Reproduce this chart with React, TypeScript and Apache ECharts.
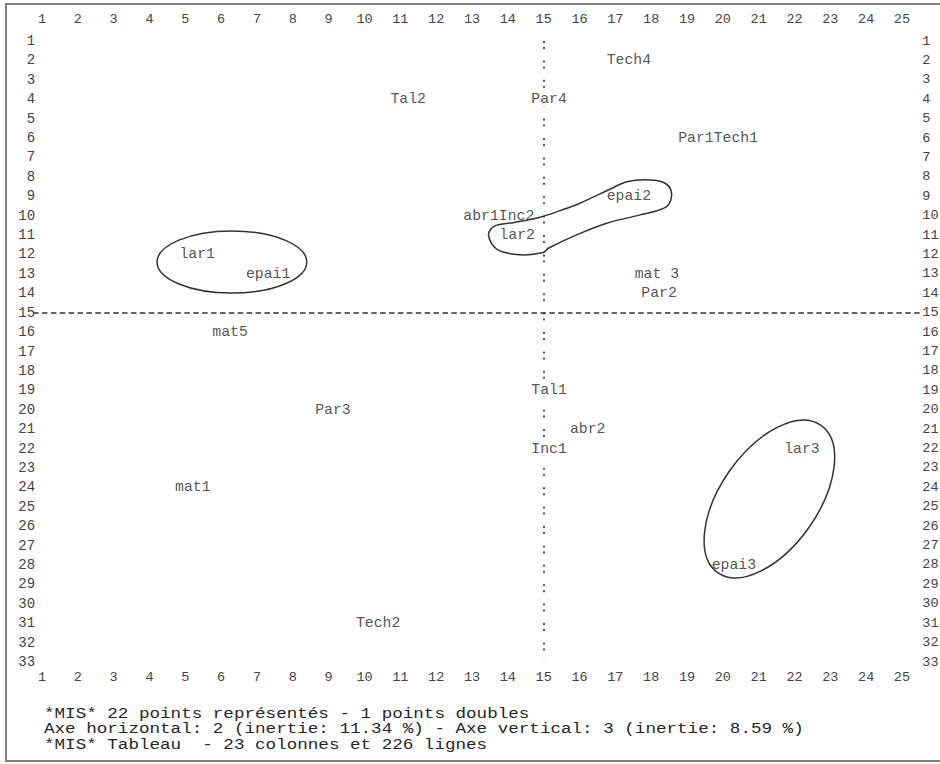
import React, { useEffect, useRef } from "react";
import * as echarts from "echarts";

// Tick labels of the character grid
const columnLabels = ["1", "2", "3", "4", "5", "6", "7", "8", "9", "10", "11", "12", "13", "14", "15", "16", "17", "18", "19", "20", "21", "22", "23", "24", "25"];
const rowLabels = ["1", "2", "3", "4", "5", "6", "7", "8", "9", "10", "11", "12", "13", "14", "15", "16", "17", "18", "19", "20", "21", "22", "23", "24", "25", "26", "27", "28", "29", "30", "31", "32", "33"];

// Plotted points (column, row of the text plot)
const pointNames = ["Tech4", "Tal2", "Par4", "Par1Tech1", "epai2", "abr1Inc2", "lar2", "lar1", "epai1", "mat 3", "Par2", "mat5", "Tal1", "Par3", "abr2", "Inc1", "lar3", "mat1", "epai3", "Tech2"];
const pointCols = [17.38, 11.22, 15.15, 19.87, 17.38, 13.75, 14.26, 5.33, 7.31, 18.16, 18.22, 6.25, 15.15, 9.12, 16.23, 15.15, 22.21, 5.21, 20.31, 10.38];
const pointRows = [2, 4, 4, 6, 9, 10, 11, 12, 13, 13, 14, 16, 19, 20, 21, 22, 22, 24, 28, 31];

// Origin axes of the factorial plane
const originCol = 15;
const originRow = 15;

// Hand-drawn contours (in column / row units)
const ellipse1 = { col: 6.3, row: 12.39, rCol: 2.09, rRow: 1.6 };
const ellipse3 = { col: 21.3, row: 24.6, major: 2.51, minor: 1.36, angleDeg: 55 };
const blobCols = [13.46, 13.69, 14.34, 14.99, 15.13, 15.92, 16.76, 17.69, 18.43, 18.57, 18.39, 17.97, 17.32, 16.85, 16.01, 15.46, 14.9, 14.15, 13.64];
const blobRows = [10.99, 11.72, 12.02, 11.9, 11.68, 10.99, 10.39, 9.96, 9.54, 8.85, 8.33, 8.16, 8.25, 8.64, 9.36, 9.74, 10.08, 10.36, 10.53];

const footerLines = [
  "*MIS* 22 points représentés - 1 points doubles",
  "Axe horizontal: 2 (inertie: 11.34 %) - Axe vertical: 3 (inertie: 8.59 %)",
  "*MIS* Tableau  - 23 colonnes et 226 lignes",
];

const MONO = '"Liberation Mono", "DejaVu Sans Mono", monospace';
const INK = "#262626";
const AXIS_INK = "#444";

export default function App() {
  const ref = useRef<HTMLDivElement>(null);

  useEffect(() => {
    if (!ref.current) return;
    const chart = echarts.init(ref.current, undefined, { renderer: "svg" });

    const axisLabelBase = {
      fontFamily: MONO,
      fontSize: 13.5,
      color: AXIS_INK,
    };
    const hidden = {
      axisLine: { show: false },
      axisTick: { show: false },
      splitLine: { show: false },
    };

    chart.setOption({
      animation: false,
      backgroundColor: "#fff",
      grid: { left: 6.17, right: 2.2, top: 41, bottom: 102, containLabel: false, outerBoundsMode: "none" },
      xAxis: [
        {
          type: "value", position: "top", min: 0, max: 26, interval: 1, ...hidden,
          axisLabel: { ...axisLabelBase, margin: 15, formatter: (v: number) => columnLabels[v - 1] ?? "" },
        },
        {
          type: "value", position: "bottom", min: 0, max: 26, interval: 1, ...hidden,
          axisLabel: { ...axisLabelBase, margin: 8, formatter: (v: number) => columnLabels[v - 1] ?? "" },
        },
      ],
      yAxis: [
        {
          type: "value", position: "left", inverse: true, min: 1, max: 33, interval: 1, ...hidden,
          axisLabel: { ...axisLabelBase, fontSize: 14, inside: true, align: "right", margin: 29, formatter: (v: number) => rowLabels[v - 1] ?? "" },
        },
        {
          type: "value", position: "right", inverse: true, min: 1, max: 33, interval: 1, ...hidden,
          axisLabel: { ...axisLabelBase, fontSize: 13.5, align: "left", margin: -15.5, formatter: (v: number) => rowLabels[v - 1] ?? "" },
        },
      ],
      series: [
        {
          type: "line",
          data: [],
          z: 1,
          silent: true,
          markLine: {
            z: 1,
            silent: true,
            symbol: ["none", "none"],
            label: { show: false },
            emphasis: { disabled: true },
            data: [
              [
                { coord: [originCol, 1], lineStyle: { color: "#555", width: 2, type: [2, 4, 2, 11.4] } },
                { coord: [originCol, 33] },
              ],
              [
                { coord: [0.75, originRow], lineStyle: { color: "#333", width: 1.5, type: [5.5, 3.4] } },
                { coord: [25.58, originRow] },
              ],
            ],
          },
        },
        {
          type: "scatter",
          z: 3,
          symbolSize: 0,
          silent: true,
          data: pointNames.map((n, i) => ({ name: n, value: [pointCols[i], pointRows[i]] })),
          label: {
            show: true,
            position: "inside",
            formatter: "{b}",
            fontFamily: MONO,
            fontSize: 14.8,
            color: INK,
            backgroundColor: "#fff",
            padding: [1, 1],
          },
        },
      ],
    });

    const toPx = (c: number, r: number) => chart.convertToPixel({ seriesIndex: 1 }, [c, r]) as number[];
    const o = toPx(0, 1);
    const u = toPx(1, 2);
    const ux = u[0] - o[0];
    const uy = u[1] - o[1];
    const e1 = toPx(ellipse1.col, ellipse1.row);
    const e3 = toPx(ellipse3.col, ellipse3.row);
    const strokeStyle = { fill: "none", stroke: "#333", lineWidth: 1.5 };

    chart.setOption({
      graphic: [
        {
          type: "rect", silent: true, z: 0,
          shape: { x: 6, y: 4, width: 960, height: 757 },
          style: { fill: "none", stroke: "#808080", lineWidth: 2 },
        },
        {
          type: "ellipse", silent: true, z: 10,
          shape: { cx: e1[0], cy: e1[1], rx: ellipse1.rCol * ux, ry: ellipse1.rRow * uy },
          style: strokeStyle,
        },
        {
          type: "ellipse", silent: true, z: 10,
          x: e3[0], y: e3[1], rotation: (ellipse3.angleDeg * Math.PI) / 180,
          shape: { cx: 0, cy: 0, rx: ellipse3.major * ux, ry: ellipse3.minor * ux },
          style: strokeStyle,
        },
        {
          type: "polygon", silent: true, z: 10,
          shape: { points: blobCols.map((c, i) => toPx(c, blobRows[i])), smooth: 0.35 },
          style: strokeStyle,
        },
        ...footerLines.map((t, i) => ({
          type: "text", silent: true, z: 10,
          x: 44, y: 714 + i * 15.5, scaleY: 0.82,
          style: { text: t, font: `17.6px ${MONO}`, fill: INK, verticalAlign: "middle", align: "left" },
        })),
      ],
    });

    return () => chart.dispose();
  }, []);

  return (
    <div
      ref={ref}
      style={{ position: "absolute", left: 0, top: 0, width: 940, height: 764, background: "#fff" }}
    />
  );
}
